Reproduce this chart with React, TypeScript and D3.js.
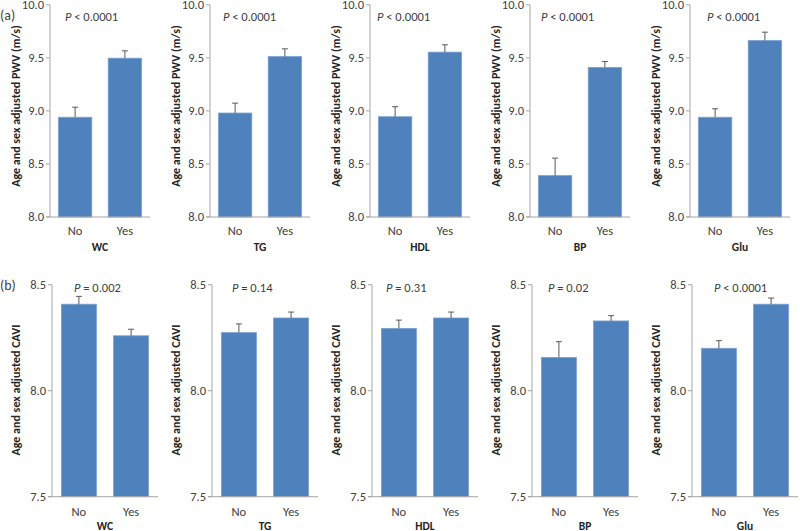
import React from "react";
import * as d3 from "d3";

// ---- Data ----
const factors = ["WC", "TG", "HDL", "BP", "Glu"];
const groups = ["No", "Yes"];

// Panel (a): age and sex adjusted PWV (m/s)
const pwvNo = [8.94, 8.98, 8.945, 8.39, 8.94];
const pwvNoErr = [9.035, 9.073, 9.04, 8.555, 9.02];
const pwvYes = [9.497, 9.512, 9.554, 9.41, 9.663];
const pwvYesErr = [9.566, 9.585, 9.623, 9.465, 9.742];
const pwvP = ["< 0.0001", "< 0.0001", "< 0.0001", "< 0.0001", "< 0.0001"];
const pwvTicks = [8.0, 8.5, 9.0, 9.5, 10.0];

// Panel (b): age and sex adjusted CAVI
const caviNo = [8.408, 8.274, 8.294, 8.157, 8.2];
const caviNoErr = [8.445, 8.315, 8.333, 8.231, 8.236];
const caviYes = [8.259, 8.343, 8.343, 8.329, 8.408];
const caviYesErr = [8.29, 8.371, 8.371, 8.354, 8.437];
const caviP = ["= 0.002", "= 0.14", "= 0.31", "= 0.02", "< 0.0001"];
const caviTicks = [7.5, 8.0, 8.5];

// ---- Style / layout ----
const FONT = "Carlito, 'Open Sans', 'Liberation Sans', sans-serif";
const BAR = "#4F81BD";
const BAR_EDGE = "#7BA0D0";
const AXIS = "#A6A6A6";
const TEXT = "#404040";
const topPOffset = [15, 13, 7, 11, 17];
const botPOffset = [22, 20, 14, 16, 22];

type PanelProps = {
  axisX: number;
  yTop: number;
  yBottom: number;
  width: number;
  domain: [number, number];
  ticks: number[];
  factor: string;
  values: number[];
  errs: number[];
  pText: string;
  pX: number;
  pY: number;
  yLabel: string;
  yLabelX: number;
  yLabelY: number;
  noY: number;
  factorY: number;
  innerPad: number;
  outerPad: number;
};

function Panel(p: PanelProps) {
  const y = d3.scaleLinear().domain(p.domain).range([p.yBottom, p.yTop]);
  const x = d3
    .scaleBand<string>()
    .domain(groups)
    .range([p.axisX, p.axisX + p.width])
    .paddingInner(p.innerPad)
    .paddingOuter(p.outerPad);
  const bw = x.bandwidth();
  const fmt = d3.format(".1f");
  return (
    <g>
      {groups.map((g, i) => {
        const x0 = x(g)!;
        const v = p.values[i];
        const e = p.errs[i];
        const cx = x0 + bw / 2;
        return (
          <g key={g}>
            <rect
              x={x0}
              y={y(v)}
              width={bw}
              height={y(p.domain[0]) - y(v)}
              fill={BAR}
              stroke={BAR_EDGE}
              strokeWidth={0.8}
            />
            <line x1={cx} x2={cx} y1={y(v)} y2={y(e)} stroke="#595959" strokeWidth={1} />
            <line x1={cx - 3} x2={cx + 3} y1={y(e)} y2={y(e)} stroke="#595959" strokeWidth={1} />
            <text
              x={cx}
              y={p.noY}
              textAnchor="middle"
              fontSize={12.5}
              fill={TEXT}
              fontFamily={FONT}
            >
              {g}
            </text>
          </g>
        );
      })}
      {/* axes */}
      <line x1={p.axisX} x2={p.axisX} y1={p.yTop} y2={p.yBottom} stroke={AXIS} strokeWidth={1} />
      <line
        x1={p.axisX - 4}
        x2={p.axisX + p.width}
        y1={p.yBottom}
        y2={p.yBottom}
        stroke={AXIS}
        strokeWidth={1}
      />
      {p.ticks.map((t) => (
        <g key={t}>
          <line x1={p.axisX - 4} x2={p.axisX} y1={y(t)} y2={y(t)} stroke={AXIS} strokeWidth={1} />
          <text
            x={p.axisX - 6}
            y={y(t)}
            dy="0.34em"
            textAnchor="end"
            fontSize={12.5}
            fill={TEXT}
            fontFamily={FONT}
          >
            {fmt(t)}
          </text>
        </g>
      ))}
      <text
        x={p.axisX + p.width / 2}
        y={p.factorY}
        textAnchor="middle"
        fontSize={11.5}
        fontWeight="bold"
        fill="#262626"
        fontFamily={FONT}
      >
        {p.factor}
      </text>
      <text
        transform={`translate(${p.yLabelX},${p.yLabelY}) rotate(-90)`}
        textAnchor="middle"
        dy="0.35em"
        fontSize={12}
        fontWeight="bold"
        fill="#262626"
        fontFamily={FONT}
      >
        {p.yLabel}
      </text>
      <text x={p.pX} y={p.pY} fontSize={12.5} fill={TEXT} fontFamily={FONT}>
        <tspan fontStyle="italic">P</tspan>
        <tspan> {p.pText}</tspan>
      </text>
    </g>
  );
}

export default function App() {
  return (
    <svg width={800} height={531} style={{ position: "absolute", left: 0, top: 0 }}>
      <rect width={800} height={531} fill="#fff" />
      <text x={0} y={20} fontSize={14} fill={TEXT} fontFamily={FONT}>
        (a)
      </text>
      <text x={0} y={290} fontSize={14} fill={TEXT} fontFamily={FONT}>
        (b)
      </text>
      {factors.map((f, i) => {
        const ax = 50 + 160 * i;
        return (
          <Panel
            key={"a" + f}
            axisX={ax}
            yTop={4.8}
            yBottom={217}
            width={100}
            domain={[8, 10]}
            ticks={pwvTicks}
            factor={f}
            values={[pwvNo[i], pwvYes[i]]}
            errs={[pwvNoErr[i], pwvYesErr[i]]}
            pText={pwvP[i]}
            pX={ax + topPOffset[i]}
            pY={21}
            yLabel="Age and sex adjusted PWV (m/s)"
            yLabelX={ax - 34.5}
            yLabelY={106}
            noY={235}
            factorY={251}
            innerPad={0.33}
            outerPad={0.17}
          />
        );
      })}
      {factors.map((f, i) => {
        const ax = 52 + 160 * i;
        return (
          <Panel
            key={"b" + f}
            axisX={ax}
            yTop={284.7}
            yBottom={496.7}
            width={106}
            domain={[7.5, 8.5]}
            ticks={caviTicks}
            factor={f}
            values={[caviNo[i], caviYes[i]]}
            errs={[caviNoErr[i], caviYesErr[i]]}
            pText={caviP[i]}
            pX={ax + botPOffset[i]}
            pY={292}
            yLabel="Age and sex adjusted CAVI"
            yLabelX={ax - 36}
            yLabelY={390}
            noY={516}
            factorY={530}
            innerPad={0.33}
            outerPad={0.18}
          />
        );
      })}
    </svg>
  );
}
